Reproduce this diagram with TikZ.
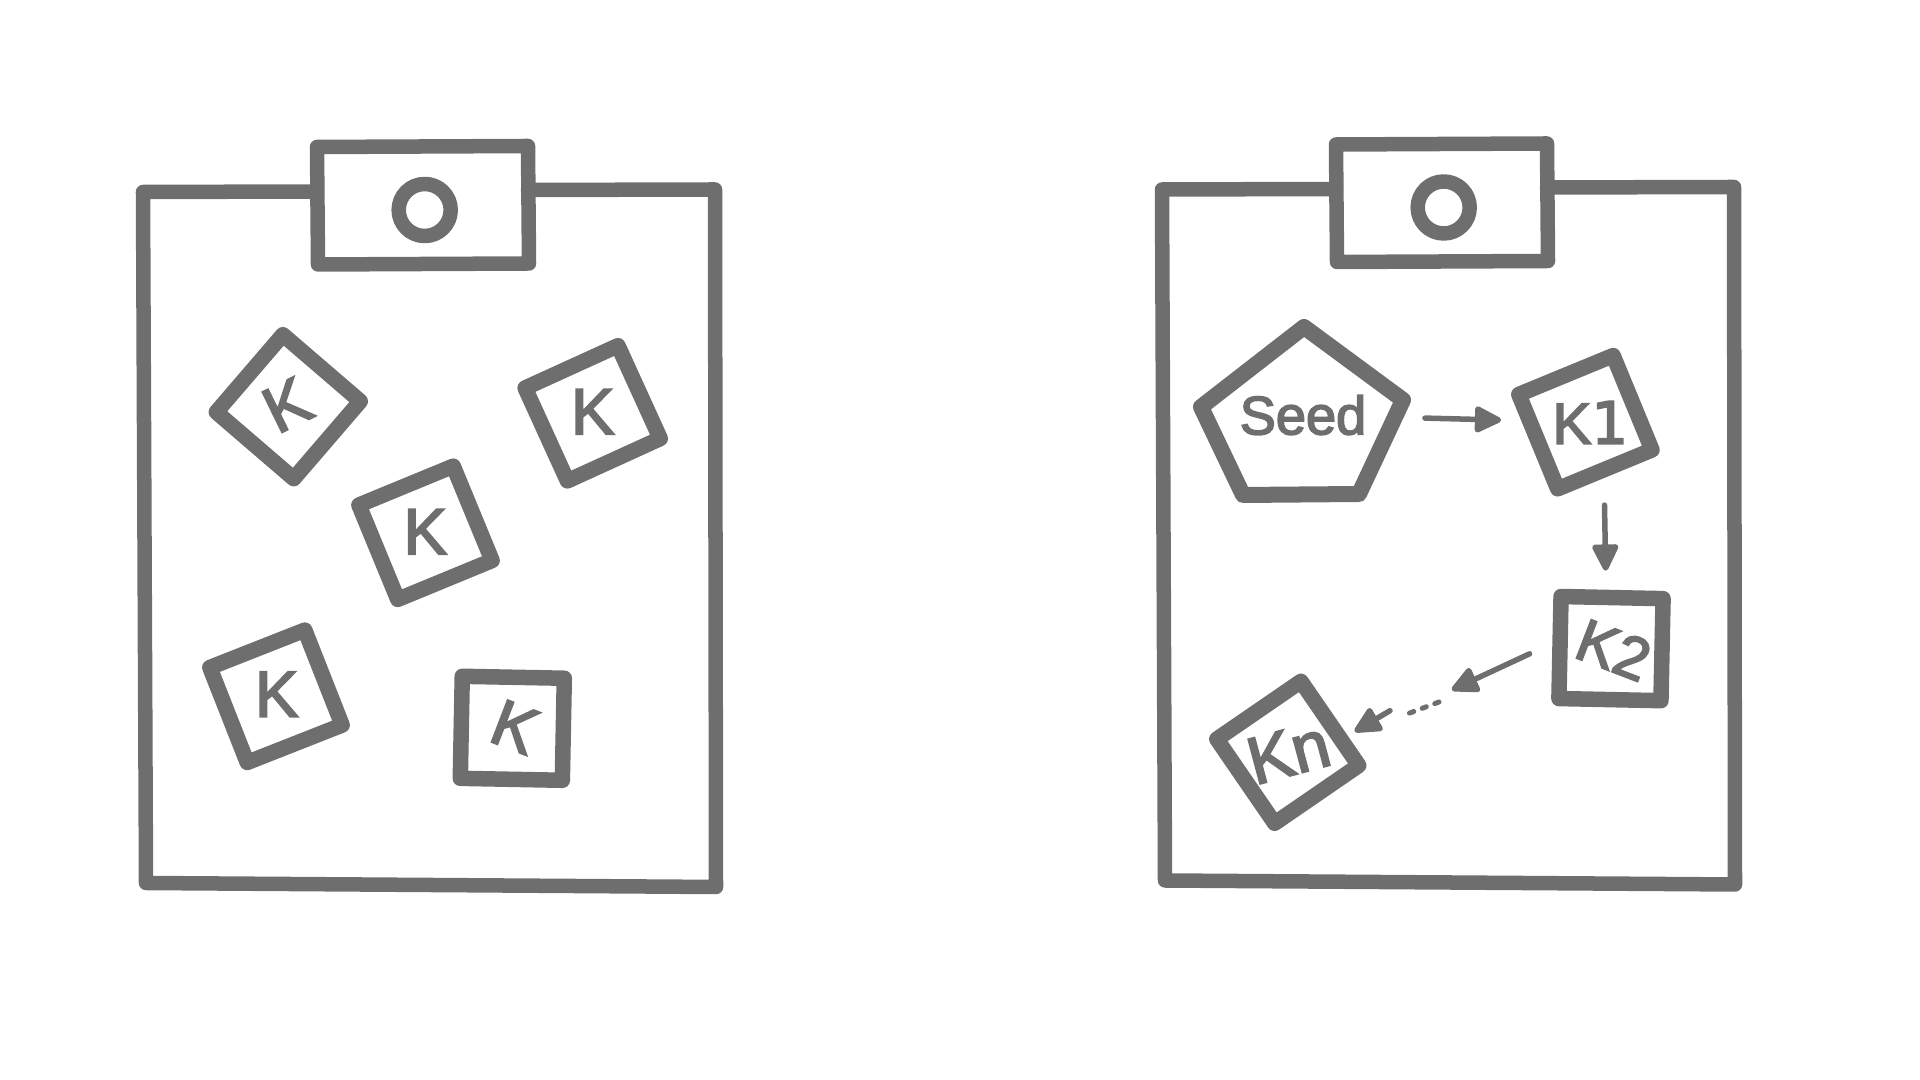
\documentclass[tikz,border=0pt]{standalone}
\usepackage{fontspec}
\setmainfont[FakeBold=3]{Liberation Sans}
\newfontfamily\digitfont[FakeBold=3]{DejaVu Sans}
\usetikzlibrary{arrows.meta}
\definecolor{inkgray}{HTML}{6E6E6E}
\begin{document}
\begin{tikzpicture}[
    x=0.01cm, y=-0.01cm,
    outline/.style={draw=inkgray, line width=0.145cm, line join=round, line cap=round},
    tile/.style={outline, line width=0.155cm, rectangle, minimum size=1.02cm, inner sep=0pt},
    hole/.style={outline, circle, minimum size=0.52cm, inner sep=0pt},
    keytext/.style={text=inkgray, inner sep=0pt},
    flow/.style={draw=inkgray, line width=0.055cm, line cap=round,
        -{Triangle[length=0.3cm, width=0.28cm, round]}},
    dots/.style={draw=inkgray, line width=0.05cm, line cap=round, dash pattern=on 0.045cm off 0.09cm}
]
\useasboundingbox (0,0) rectangle (1920,1080);

% two boards
\foreach \bname/\dx/\dy in {a/0/0, b/1019/-2.5} {
\begin{scope}[shift={(\dx,\dy)}]
    \draw[outline] (317,191.5) -- (143,192) -- (146,883) -- (716,887) -- (715,189.5) -- (528,190);
    \draw[outline] (317,147) -- (528,146) -- (529,263.5) -- (318,264.5) -- cycle;
    \node[hole] (hole\bname) at (424.7,210) {};
\end{scope}
}

% loose keys
\foreach \tname/\x/\y/\a/\lx/\ly/\la in {
    t1/288.3/406.7/-40.7/287/405/26,
    t2/592.7/413.3/24.5/592.7/411.7/0,
    t3/425.5/532.8/22.4/425.3/531.7/0,
    t4/276/696.3/21.5/276.7/694.3/0,
    t5/512.3/728.3/-1.1/515/727/-21} {
    \node[tile, rotate=\a] (\tname) at (\x,\y) {};
    \node[keytext, font=\fontsize{18.5}{20}\selectfont, rotate=\la] (\tname text) at (\lx,\ly) {K};
}

% seed and derived keys
\draw[outline, line width=0.16cm] (1304,327) -- (1403,400) -- (1359,494) -- (1243,495) -- (1201,407) -- cycle;
\node[keytext, font=\fontsize{15.4}{17}\selectfont] (seed) at (1303,415) {Seed};

\foreach \tname/\x/\y/\a/\lx/\ly/\la/\fs/\txt in {
    k1/1585.4/422.2/22.4/1590.4/422.5/0/16.5/K{\digitfont 1},
    k2/1611/648.6/-1.2/1613.6/650/-21/17/K2,
    kn/1287.8/752.3/34.5/1288.5/752.4/15/19/Kn} {
    \node[tile, rotate=\a] (\tname) at (\x,\y) {};
    \node[keytext, font=\fontsize{\fs}{20}\selectfont, rotate=\la] (\tname text) at (\lx,\ly) {\txt};
}

\coordinate (gapa) at (1451.8,690);
\coordinate (dotsa) at (1439,702);
\coordinate (dotsb) at (1406.4,714.3);
\coordinate (kntail) at (1390,710.7);

\draw[flow, shorten <=0.58cm, shorten >=0.2cm] (seed) -- (k1);
\draw[flow, shorten <=0.27cm, shorten >=0.19cm] (k1.-94) -- (k2.96);
\draw[flow, shorten <=0.25cm] (k2.176) -- (gapa);
\draw[dots] (dotsa) -- (dotsb);
\draw[flow, shorten >=0.08cm] (kntail) -- (kn.-19);
\end{tikzpicture}
\end{document}
